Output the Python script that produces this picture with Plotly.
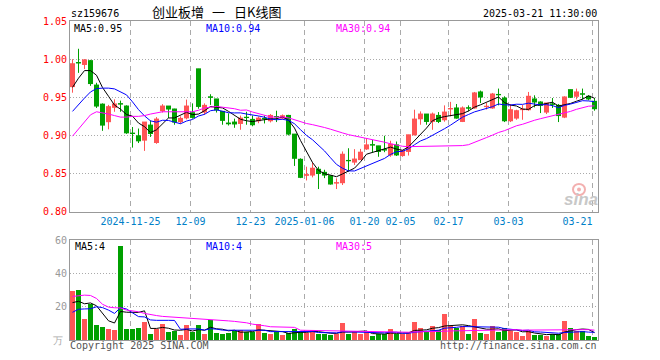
import plotly.graph_objects as go

# ---------------- data ----------------
dates = [
    "2024-11-11", "2024-11-12", "2024-11-13", "2024-11-14", "2024-11-15",
    "2024-11-18", "2024-11-19", "2024-11-20", "2024-11-21", "2024-11-22",
    "2024-11-25", "2024-11-26", "2024-11-27", "2024-11-28", "2024-11-29",
    "2024-12-02", "2024-12-03", "2024-12-04", "2024-12-05", "2024-12-06",
    "2024-12-09", "2024-12-10", "2024-12-11", "2024-12-12", "2024-12-13",
    "2024-12-16", "2024-12-17", "2024-12-18", "2024-12-19", "2024-12-20",
    "2024-12-23", "2024-12-24", "2024-12-25", "2024-12-26", "2024-12-27",
    "2024-12-30", "2024-12-31", "2025-01-02", "2025-01-03",
    "2025-01-06", "2025-01-07", "2025-01-08", "2025-01-09", "2025-01-10",
    "2025-01-13", "2025-01-14", "2025-01-15", "2025-01-16", "2025-01-17",
    "2025-01-20", "2025-01-21", "2025-01-22", "2025-01-23", "2025-01-24",
    "2025-01-27",
    "2025-02-05", "2025-02-06", "2025-02-07",
    "2025-02-10", "2025-02-11", "2025-02-12", "2025-02-13", "2025-02-14",
    "2025-02-17", "2025-02-18", "2025-02-19", "2025-02-20", "2025-02-21",
    "2025-02-24", "2025-02-25", "2025-02-26", "2025-02-27", "2025-02-28",
    "2025-03-03", "2025-03-04", "2025-03-05", "2025-03-06", "2025-03-07",
    "2025-03-10", "2025-03-11", "2025-03-12", "2025-03-13", "2025-03-14",
    "2025-03-17", "2025-03-18", "2025-03-19", "2025-03-20", "2025-03-21",
]

opens = [
    0.964, 0.9955, 0.993, 0.998, 0.966, 0.941, 0.918, 0.9368, 0.9415, 0.9385,
    0.903, 0.8995, 0.8938, 0.9135, 0.8907, 0.9324, 0.9385, 0.9346, 0.918, 0.923,
    0.9298, 0.9873, 0.9306, 0.9505, 0.9478, 0.9315, 0.9162, 0.9175, 0.9157, 0.9238,
    0.921, 0.9192, 0.9222, 0.9192, 0.9248, 0.9227, 0.9262, 0.9017, 0.8687,
    0.8477, 0.848, 0.8556, 0.8516, 0.8472, 0.8376, 0.838, 0.8672, 0.865, 0.8683,
    0.8823, 0.8878, 0.8863, 0.8812, 0.8744, 0.8876,
    0.8736, 0.879, 0.9008, 0.9218, 0.928, 0.9183, 0.9262, 0.9205,
    0.9348, 0.936, 0.9183, 0.9362, 0.936, 0.957, 0.9378, 0.936, 0.9537, 0.949,
    0.9192, 0.9227, 0.9338, 0.9337, 0.9478, 0.9438, 0.9306, 0.9412, 0.9394, 0.924,
    0.960, 0.9513, 0.9545, 0.9513, 0.9447,
]
highs = [
    1.000, 1.0136, 1.000, 0.999, 0.969, 0.942, 0.940, 0.9473, 0.9456, 0.9395,
    0.911, 0.909, 0.9175, 0.9197, 0.924, 0.941, 0.9385, 0.935, 0.925, 0.947,
    0.942, 0.9873, 0.942, 0.954, 0.9478, 0.9315, 0.929, 0.922, 0.926, 0.931,
    0.926, 0.925, 0.926, 0.928, 0.9324, 0.9275, 0.927, 0.9017, 0.870,
    0.859, 0.865, 0.859, 0.855, 0.8475, 0.8437, 0.879, 0.8832, 0.882, 0.8823,
    0.8964, 0.894, 0.8863, 0.8995, 0.893, 0.892,
    0.881, 0.9008, 0.9337, 0.9315, 0.928, 0.930, 0.9306, 0.9394,
    0.944, 0.9412, 0.938, 0.9394, 0.957, 0.9588, 0.9425, 0.9557, 0.9614, 0.9513,
    0.941, 0.9337, 0.940, 0.957, 0.9526, 0.9447, 0.9425, 0.949, 0.9412, 0.9513,
    0.960, 0.9614, 0.9614, 0.9526, 0.949,
]
lows = [
    0.956, 0.982, 0.987, 0.965, 0.936, 0.906, 0.908, 0.931, 0.931, 0.902,
    0.884, 0.890, 0.8797, 0.898, 0.889, 0.930, 0.9227, 0.914, 0.915, 0.921,
    0.922, 0.935, 0.927, 0.940, 0.930, 0.914, 0.913, 0.910, 0.9074, 0.914,
    0.912, 0.916, 0.9157, 0.917, 0.9175, 0.921, 0.900, 0.860, 0.844,
    0.841, 0.845, 0.8297, 0.844, 0.8355, 0.8297, 0.835, 0.8525, 0.8613, 0.868,
    0.881, 0.877, 0.872, 0.878, 0.872, 0.873,
    0.872, 0.8736, 0.900, 0.914, 0.914, 0.9074, 0.9162, 0.918,
    0.925, 0.922, 0.9175, 0.9315, 0.935, 0.9425, 0.934, 0.935, 0.9394, 0.9175,
    0.9175, 0.9205, 0.9205, 0.9324, 0.9368, 0.9293, 0.928, 0.936, 0.9175, 0.9227,
    0.949, 0.9473, 0.947, 0.946, 0.9324,
]
closes = [
    0.994, 0.995, 0.999, 0.968, 0.9385, 0.9135, 0.9377, 0.9412, 0.9412, 0.9034,
    0.9025, 0.8929, 0.9175, 0.9025, 0.9214, 0.9385, 0.9346, 0.9175, 0.9223, 0.9385,
    0.9236, 0.938, 0.9394, 0.950, 0.9333, 0.9197, 0.9153, 0.915, 0.9227, 0.9234,
    0.914, 0.9227, 0.9218, 0.9262, 0.9245, 0.9258, 0.9017, 0.870, 0.845,
    0.8486, 0.857, 0.850, 0.848, 0.8363, 0.838, 0.8753, 0.8668, 0.869, 0.878,
    0.8876, 0.8874, 0.879, 0.881, 0.8885, 0.8744,
    0.8797, 0.9008, 0.9214, 0.928, 0.9183, 0.928, 0.9183, 0.9306,
    0.9352, 0.9227, 0.936, 0.9358, 0.9557, 0.9504, 0.9382, 0.9543, 0.9533, 0.9192,
    0.9337, 0.9324, 0.9342, 0.9513, 0.9438, 0.9394, 0.9425, 0.9408, 0.926, 0.9504,
    0.950, 0.957, 0.9541, 0.9478, 0.935,
]
volumes = [
    29.5, 30.1, 12.7, 21.7, 9.0, 7.8, 6.6, 6.0, 56.6, 6.6,
    6.6, 7.2, 10.8, 3.6, 6.6, 9.6, 4.8, 5.4, 3.0, 9.0,
    4.8, 9.0, 3.6, 12.0, 4.2, 3.6, 4.2, 5.4, 6.0, 4.8,
    4.8, 9.6, 4.2, 3.6, 4.8, 3.0, 4.2, 6.6, 4.8, 4.2,
    6.0, 3.6, 3.6, 3.0, 3.6, 10.2, 3.6, 4.8, 3.6, 4.8,
    2.4, 3.6, 3.6, 6.6, 3.6, 3.6, 4.2, 10.8, 7.2, 4.8,
    8.4, 6.0, 15.7, 8.4, 7.2, 8.4, 3.6, 12.7, 4.2, 3.6,
    8.4, 4.8, 7.2, 5.4, 4.8, 2.4, 5.4, 3.0, 3.0, 2.4,
    3.6, 3.6, 11.4, 7.2, 5.4, 5.4, 2.4, 1.8,
]

# moving-average values before enough history is on the chart
ma5_head = [0.963, 0.975, 0.985, 0.985]
ma10_head = [0.9315, 0.941, 0.949, 0.957, 0.9614, 0.962, 0.962, 0.961, 0.957]
ma30_head = [0.899, 0.908, 0.918, 0.927, 0.931, 0.930, 0.928, 0.926, 0.924, 0.924,
             0.925, 0.925, 0.926, 0.928, 0.930, 0.931, 0.931, 0.931, 0.931, 0.931,
             0.931, 0.933, 0.936, 0.937, 0.938, 0.937, 0.936, 0.935, 0.933]
vma5_head = [22.5, 23.3, 21.8, 22.3]
vma10_head = [16.7, 18.5, 18.7, 18.8, 20.0, 19.5, 18.0, 16.0, 19.5]
vma30_head = [26.2, 26.5, 27.0, 26.8, 25.0, 21.5, 19.8, 19.4, 19.3, 18.0,
              17.5, 17.0, 16.0, 15.2, 14.7, 14.2, 14.0, 13.6, 13.3, 13.0,
              12.9, 12.7, 12.5, 12.2, 12.0, 11.8, 11.5, 11.2, 11.0]

tick_dates = ["2024-11-25", "2024-12-09", "2024-12-23", "2025-01-06", "2025-01-20",
              "2025-02-05", "2025-02-17", "2025-03-03", "2025-03-21"]
tick_labels = ["2024-11-25", "12-09", "12-23", "2025-01-06", "01-20",
               "02-05", "02-17", "03-03", "03-21\u00a0\u00a0\u00a0\u00a0\u00a0"]
price_ticks = [0.80, 0.85, 0.90, 0.95, 1.00, 1.05]
vol_ticks = [20, 40, 60]

header_code = "sz159676"
header_title_parts = ["创业板增", "一", "日K线图"]
header_time = "2025-03-21 11:30:00"
legend_price = ["MA5:0.95", "MA10:0.94", "MA30:0.94"]
legend_vol = ["MA5:4", "MA10:4", "MA30:5"]

# ---------------- style ----------------
RED = "#FF5555"
GREEN = "#00A000"
GRID = "#AAAAAA"
BORDER = "#999999"
MONO = "DejaVu Sans Mono"
CJK = "Noto Sans CJK SC"
MA_COLORS = ["#000000", "#0000FF", "#FF00FF"]


def rolling(vals, head, n):
    out = list(head)
    for i in range(len(head), len(vals)):
        out.append(sum(vals[i - n + 1:i + 1]) / n)
    return out


n = len(dates)
idx = list(range(n))
is_up = [closes[i] >= opens[i] for i in idx]
ma_price = [rolling(closes, ma5_head, 5), rolling(closes, ma10_head, 10), rolling(closes, ma30_head, 30)]
ma_vol = [rolling(volumes, vma5_head, 5), rolling(volumes, vma10_head, 10), rolling(volumes, vma30_head, 30)]

fig = go.Figure()

for up, col in [(True, RED), (False, GREEN)]:
    sel = [i for i in idx if is_up[i] == up]
    wx, wy = [], []
    for i in sel:
        wx += [i, i, None]
        wy += [lows[i], highs[i], None]
    fig.add_trace(go.Scatter(x=wx, y=wy, mode="lines", line=dict(color=col, width=1),
                             hoverinfo="skip", showlegend=False, xaxis="x", yaxis="y"))
    fig.add_trace(go.Bar(x=sel, base=[min(opens[i], closes[i]) for i in sel],
                         y=[abs(closes[i] - opens[i]) for i in sel], width=5 / 6,
                         marker=dict(color=col, line=dict(width=0)),
                         showlegend=False, xaxis="x", yaxis="y"))
    ex, ey = [], []
    for i in sel:
        ex += [i, i]
        ey += [opens[i], closes[i]]
    fig.add_trace(go.Scatter(x=ex, y=ey, mode="markers",
                             marker=dict(symbol="line-ew", size=3.6, line=dict(color=col, width=1)),
                             hoverinfo="skip", showlegend=False, xaxis="x", yaxis="y"))

for vals, col in zip(ma_price, MA_COLORS):
    fig.add_trace(go.Scatter(x=idx, y=vals, mode="lines", line=dict(color=col, width=1),
                             showlegend=False, xaxis="x", yaxis="y"))

fig.add_trace(go.Bar(x=idx, y=volumes, width=5 / 6,
                     marker=dict(color=[RED if u else GREEN for u in is_up], line=dict(width=0)),
                     showlegend=False, xaxis="x2", yaxis="y2"))
for vals, col in zip(ma_vol, MA_COLORS):
    fig.add_trace(go.Scatter(x=idx, y=vals, mode="lines", line=dict(color=col, width=1),
                             showlegend=False, xaxis="x2", yaxis="y2"))

tickpos = [dates.index(d) - 1 / 3 for d in tick_dates]
xrange = [-5 / 12, n - 5 / 12]

L, R, T, B, W, H = 70, 62, 21, 20, 660, 360
PW = W - L - R
PH = H - T - B


def px(x):
    return (x - L) / PW


def py(y):
    return (H - B - y) / PH


xcommon = dict(range=xrange, tickmode="array", tickvals=tickpos, showgrid=True,
               gridcolor=GRID, griddash="5px,4px", gridwidth=1, zeroline=False,
               showline=True, linecolor=BORDER, linewidth=1, mirror=True, ticks="",
               fixedrange=True)

fig.update_layout(
    width=W, height=H,
    margin=dict(l=L, r=R, t=T, b=B, pad=0),
    paper_bgcolor="white", plot_bgcolor="white",
    barmode="overlay", bargap=0,
    showlegend=False,
    font=dict(family=MONO, size=10, color="#000000"),
    xaxis=dict(anchor="y", ticktext=tick_labels,
               tickfont=dict(family=MONO, size=10, color="#0080C8"), **xcommon),
    xaxis2=dict(anchor="y2", showticklabels=False, **xcommon),
    yaxis=dict(domain=[(H - B - 211.7) / PH, 1], range=[0.80, 1.05], tickmode="array",
               tickvals=price_ticks, ticktext=["%.2f" % v for v in price_ticks],
               tickfont=dict(family=MONO, size=10, color="#FF0000"),
               showgrid=True, gridcolor=GRID, griddash="1px,2px", zeroline=False,
               showline=True, linecolor=BORDER, linewidth=1, mirror=True, ticks="",
               fixedrange=True),
    yaxis2=dict(domain=[0, (H - B - 240.3) / PH], range=[0, 60], tickmode="array",
                tickvals=vol_ticks, ticktext=[str(v) for v in vol_ticks],
                tickfont=dict(family=MONO, size=10, color="#999999"),
                showgrid=True, gridcolor=GRID, griddash="1px,2px", zeroline=False,
                showline=True, linecolor=BORDER, linewidth=1, mirror=True, ticks="",
                fixedrange=True),
)

ann = []


def add_text(text, x, y, color="#000000", size=10, family=MONO, xanchor="left", **kw):
    ann.append(dict(text=text, x=px(x), y=py(y), xref="paper", yref="paper",
                    xanchor=xanchor, yanchor="middle", showarrow=False, borderpad=0,
                    font=dict(family=family, size=size, color=color), **kw))


add_text(header_code, 70, 13)
add_text(header_title_parts[0], 151, 12, size=13, family=CJK)
add_text(header_title_parts[1], 218, 12, size=13, family=CJK, xanchor="center")
add_text(header_title_parts[2], 233, 12, size=13, family=CJK)
add_text(header_time, 598, 13, xanchor="right")
for t, x, c in zip(legend_price, [73, 205, 335], MA_COLORS):
    add_text(t, x, 28, color=c)
for t, x, c in zip(legend_vol, [74, 205, 335], MA_COLORS):
    add_text(t, x, 246.5, color=c)
add_text("万", 64, 341, color="#AAAAAA", xanchor="right")
add_text("Copyright 2025 SINA.COM", 69, 345.5, color="#555555")
add_text("http://finance.sina.com.cn", 598, 345.5, color="#555555", xanchor="right")
add_text("<b><i>sina</i></b>", 581, 200, color="#C8C8C8", size=17, family="Arial", xanchor="center")

# sina "eye" watermark logo
logo_shapes = [
    dict(type="circle", xref="paper", yref="paper",
         x0=px(573), x1=px(585), y0=py(195), y1=py(184),
         line=dict(color="#F3B0B0", width=2), fillcolor="rgba(0,0,0,0)"),
    dict(type="circle", xref="paper", yref="paper",
         x0=px(577), x1=px(581), y0=py(191.5), y1=py(187.5),
         line=dict(width=0), fillcolor="#F3B0B0"),
]

fig.update_layout(annotations=ann, shapes=logo_shapes)
fig.write_html("out.html",
               config={"displayModeBar": False, "staticPlot": True},
               post_script="document.body.style.margin='0px';"
                           "document.documentElement.style.overflow='hidden';")
